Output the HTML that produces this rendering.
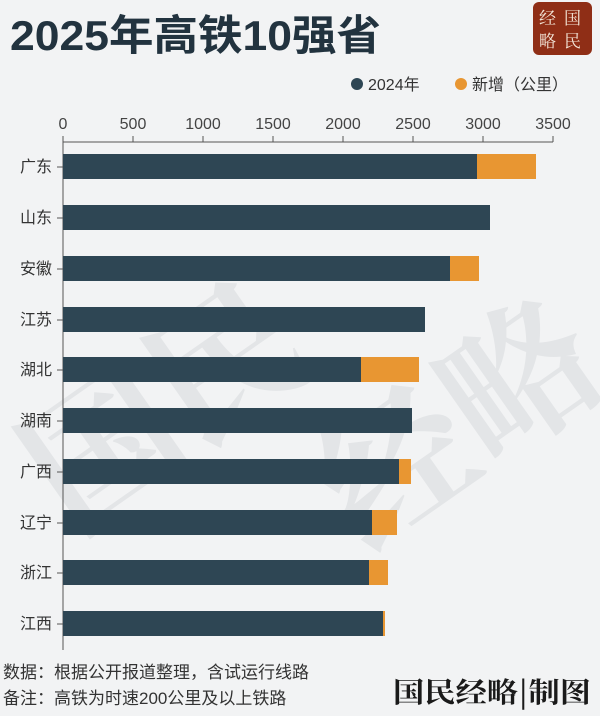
<!DOCTYPE html>
<html><head><meta charset="utf-8"><style>
body{margin:0;width:600px;height:716px;background:#f2f3f4;overflow:hidden;font-family:"Liberation Sans","Noto Sans CJK SC",sans-serif;}
</style></head><body>
<svg width="600" height="716" xmlns="http://www.w3.org/2000/svg" style="position:absolute;left:0;top:0">
<rect width="600" height="716" fill="#f2f3f4"/>
<g font-family="Noto Serif CJK SC, serif" font-size="150" fill="#e3e5e7" font-weight="bold">
<text x="20" y="470" transform="rotate(-35 150 420)">国民</text>
<text x="330" y="520" transform="rotate(-35 400 480)">经略</text>
</g>
<text x="10" y="50" font-size="42" font-weight="bold" fill="#22333f" font-family="Liberation Sans, Noto Sans CJK SC, sans-serif" textLength="371" lengthAdjust="spacingAndGlyphs">2025年高铁10强省</text>
<rect x="533" y="2" width="59" height="53" rx="6" fill="#8f2e16"/>
<g font-family="Noto Serif CJK SC, serif" font-size="17" fill="#f3e6d8">
<text x="539" y="24">经</text><text x="564" y="24">国</text>
<text x="539" y="47">略</text><text x="564" y="47">民</text>
</g>
<circle cx="357" cy="84" r="6" fill="#2e4654"/>
<text x="368" y="90" font-size="16" fill="#333">2024年</text>
<circle cx="461" cy="84" r="6" fill="#e89632"/>
<text x="472" y="90" font-size="16" fill="#333">新增（公里）</text>
<g font-size="16" fill="#444" text-anchor="middle">
<text x="63" y="129">0</text><text x="133" y="129">500</text><text x="203" y="129">1000</text><text x="273" y="129">1500</text><text x="343" y="129">2000</text><text x="413" y="129">2500</text><text x="483" y="129">3000</text><text x="553" y="129">3500</text>
</g>
<g stroke="#555" stroke-width="1">
<line x1="63" y1="142" x2="553" y2="142"/>
<line x1="63" y1="136" x2="63" y2="650"/>
<line x1="133" y1="136" x2="133" y2="142"/><line x1="203" y1="136" x2="203" y2="142"/><line x1="273" y1="136" x2="273" y2="142"/><line x1="343" y1="136" x2="343" y2="142"/><line x1="413" y1="136" x2="413" y2="142"/><line x1="483" y1="136" x2="483" y2="142"/><line x1="553" y1="136" x2="553" y2="142"/>
</g>
<g fill="#2e4654">
<rect x="63" y="154" width="414" height="25"/>
<rect x="63" y="205" width="427" height="25"/>
<rect x="63" y="256" width="387" height="25"/>
<rect x="63" y="307" width="362" height="25"/>
<rect x="63" y="357" width="298" height="25"/>
<rect x="63" y="408" width="349" height="25"/>
<rect x="63" y="459" width="336" height="25"/>
<rect x="63" y="510" width="309" height="25"/>
<rect x="63" y="560" width="306" height="25"/>
<rect x="63" y="611" width="320" height="25"/>
</g>
<g fill="#e89632">
<rect x="477" y="154" width="59" height="25"/>
<rect x="450" y="256" width="29" height="25"/>
<rect x="361" y="357" width="58" height="25"/>
<rect x="399" y="459" width="12" height="25"/>
<rect x="372" y="510" width="25" height="25"/>
<rect x="369" y="560" width="19" height="25"/>
<rect x="383" y="611" width="2" height="25"/>
</g>
<g font-size="16" fill="#333" text-anchor="end">
<text x="52" y="172">广东</text><text x="52" y="223">山东</text><text x="52" y="274">安徽</text><text x="52" y="325">江苏</text><text x="52" y="375">湖北</text><text x="52" y="426">湖南</text><text x="52" y="477">广西</text><text x="52" y="528">辽宁</text><text x="52" y="578">浙江</text><text x="52" y="629">江西</text>
</g>
<g stroke="#555"><line x1="57" y1="167" x2="63" y2="167"/><line x1="57" y1="218" x2="63" y2="218"/><line x1="57" y1="269" x2="63" y2="269"/><line x1="57" y1="320" x2="63" y2="320"/><line x1="57" y1="370" x2="63" y2="370"/><line x1="57" y1="421" x2="63" y2="421"/><line x1="57" y1="472" x2="63" y2="472"/><line x1="57" y1="523" x2="63" y2="523"/><line x1="57" y1="573" x2="63" y2="573"/><line x1="57" y1="624" x2="63" y2="624"/></g>
<g font-size="17" fill="#333">
<text x="3" y="678">数据：根据公开报道整理，含试运行线路</text>
<text x="3" y="704">备注：高铁为时速200公里及以上铁路</text>
</g>
<text x="393" y="702" font-size="28" fill="#1a1a1a" font-family="Noto Serif CJK SC, serif" font-weight="bold" textLength="198" lengthAdjust="spacingAndGlyphs">国民经略|制图</text>
</svg>
</body></html>
